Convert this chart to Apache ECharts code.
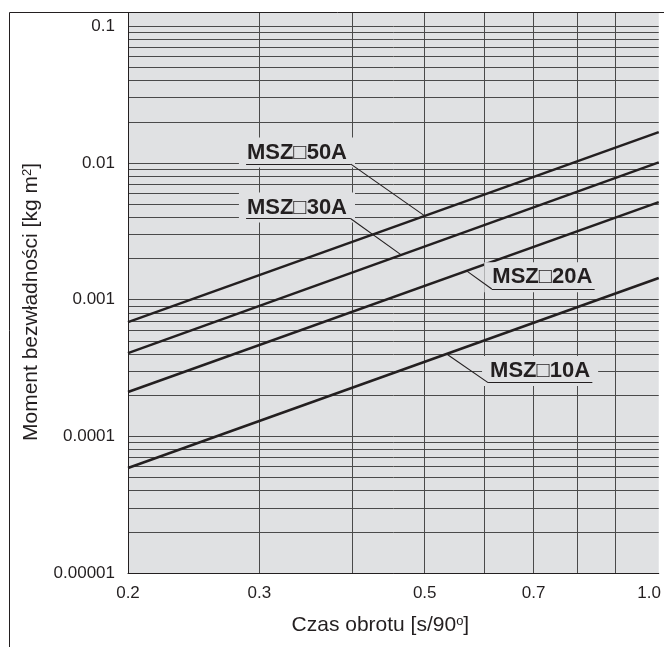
<!DOCTYPE html>
<html>
<head>
<meta charset="utf-8">
<script src="https://cdn.jsdelivr.net/npm/echarts@6/dist/echarts.min.js"></script>
<style>
  html, body { margin: 0; padding: 0; background: #fff; }
  #chart { width: 664px; height: 647px; }
</style>
</head>
<body>
<div id="chart"></div>
<script>
// rotation time [s/90deg] at the two ends of each line
const times = [0.2, 1.03];
const seriesNames = ['MSZ\u25A150A', 'MSZ\u25A130A', 'MSZ\u25A120A', 'MSZ\u25A110A'];
// moment of inertia [kg m2] read at those times
const inertia50 = [0.000685, 0.0168];
const inertia30 = [0.000406, 0.0101];
const inertia20 = [0.000211, 0.00517];
const inertia10 = [0.0000586, 0.00144];

const xTickValues = [0.2, 0.3, 0.5, 0.7, 1.0];
const xTickLabels = ['0.2', '0.3', '0.5', '0.7', '1.0'];
const xGridValues = [0.2, 0.3, 0.4, 0.5, 0.6, 0.7, 0.8, 0.9];
const yTickValues = [0.00001, 0.0001, 0.001, 0.01, 0.1];
const yTickLabels = ['0.00001', '0.0001', '0.001', '0.01', '0.1'];

// callout placement, in data units
const labelX = [0.337, 0.337, 0.719, 0.714];
const labelY = [0.0119, 0.00472, 0.001458, 0.000301];
const underlineY = [0.0098, 0.00391, 0.001196, 0.000247];
const underlineFrom = [0.288, 0.288, 0.615, 0.608];
const underlineTo = [0.398, 0.398, 0.845, 0.839];
const leaderX = [0.5, 0.465, 0.569, 0.535];

const ink = '#231f20';
const gridGray = '#4a4a4a';
const plotBg = '#e0e1e3';
const font = 'Liberation Sans, Arial, Helvetica, sans-serif';

const yGridValues = [];
for (let e = -5; e <= -2; e++) {
  for (let m = 1; m <= 9; m++) yGridValues.push(+(m * Math.pow(10, e)).toPrecision(3));
}
yGridValues.push(0.1);

function pickLabel(values, labels, v) {
  for (let i = 0; i < values.length; i++) {
    if (Math.abs(values[i] - v) / values[i] < 1e-6) return labels[i];
  }
  return '';
}

// point on a straight log-log line
function valueAt(vals, x) {
  const t = Math.log(x / times[0]) / Math.log(times[1] / times[0]);
  return Math.exp(Math.log(vals[0]) + t * (Math.log(vals[1]) - Math.log(vals[0])));
}

const allData = [inertia50, inertia30, inertia20, inertia10];

const series = allData.map(function (vals, i) {
  const leaderStart = i < 2 ? underlineTo[i] : underlineFrom[i];
  return {
    type: 'line',
    name: seriesNames[i],
    data: times.map(function (t, j) { return [t, vals[j]]; }),
    symbol: 'none',
    silent: true,
    z: 3,
    lineStyle: { color: ink, width: 2.5 },
    markPoint: {
      silent: true,
      z: 4,
      symbol: 'rect',
      symbolSize: 1,
      itemStyle: { color: 'rgba(0,0,0,0)' },
      label: {
        show: true,
        position: 'inside',
        formatter: seriesNames[i],
        fontFamily: font,
        fontSize: 22,
        fontWeight: 'bold',
        color: ink,
        backgroundColor: plotBg,
        padding: [4, 8, 4, 8]
      },
      data: [{ coord: [labelX[i], labelY[i]] }]
    },
    markLine: {
      silent: true,
      z: 6,
      symbol: 'none',
      label: { show: false },
      lineStyle: { color: ink, width: 1.1, type: 'solid' },
      data: [
        [{ coord: [underlineFrom[i], underlineY[i]] }, { coord: [underlineTo[i], underlineY[i]] }],
        [{ coord: [leaderStart, underlineY[i]] }, { coord: [leaderX[i], valueAt(vals, leaderX[i])] }]
      ]
    }
  };
});

const chart = echarts.init(document.getElementById('chart'));
chart.setOption({
  animation: false,
  textStyle: { fontFamily: font },
  grid: { left: 128, right: 0, top: 13, bottom: 74, show: true, backgroundColor: plotBg, borderWidth: 0 },
  xAxis: {
    type: 'log',
    logBase: 10,
    min: 0.2,
    max: 1.03,
    name: 'Czas obrotu [s/90{sup|o}]',
    nameLocation: 'middle',
    nameGap: 42,
    nameTextStyle: {
      fontSize: 21, color: ink, fontFamily: font,
      padding: [0, 26, 0, 0],
      rich: { sup: { fontSize: 13, color: ink, fontFamily: font, verticalAlign: 'top' } }
    },
    axisLine: { show: true, onZero: false, lineStyle: { color: ink, width: 1 } },
    axisTick: { show: false, customValues: xGridValues },
    axisLabel: {
      customValues: xTickValues,
      formatter: function (v) { return pickLabel(xTickValues, xTickLabels, v); },
      margin: 12, fontSize: 17, color: ink
    },
    splitLine: { show: true, lineStyle: { color: gridGray, width: 1 } }
  },
  yAxis: {
    type: 'log',
    logBase: 10,
    min: 0.00001,
    max: 0.125,
    name: 'Moment bezwładności [kg m{sup|2}]',
    nameLocation: 'middle',
    nameGap: 86,
    nameTextStyle: {
      fontSize: 21, color: ink, fontFamily: font,
      padding: [0, 18, 0, 0],
      rich: { sup: { fontSize: 13, color: ink, fontFamily: font, verticalAlign: 'top' } }
    },
    axisLine: { show: true, onZero: false, lineStyle: { color: ink, width: 1 } },
    axisTick: { show: false, customValues: yGridValues },
    axisLabel: {
      customValues: yTickValues,
      formatter: function (v) { return pickLabel(yTickValues, yTickLabels, v); },
      margin: 13, fontSize: 17, color: ink
    },
    splitLine: { show: true, lineStyle: { color: gridGray, width: 1 } }
  },
  graphic: [{
    type: 'rect',
    z: 10,
    silent: true,
    shape: { x: 9.5, y: 12.5, width: 900, height: 900 },
    style: { fill: 'none', stroke: ink, lineWidth: 1 }
  }],
  series: series
});
</script>
</body>
</html>
